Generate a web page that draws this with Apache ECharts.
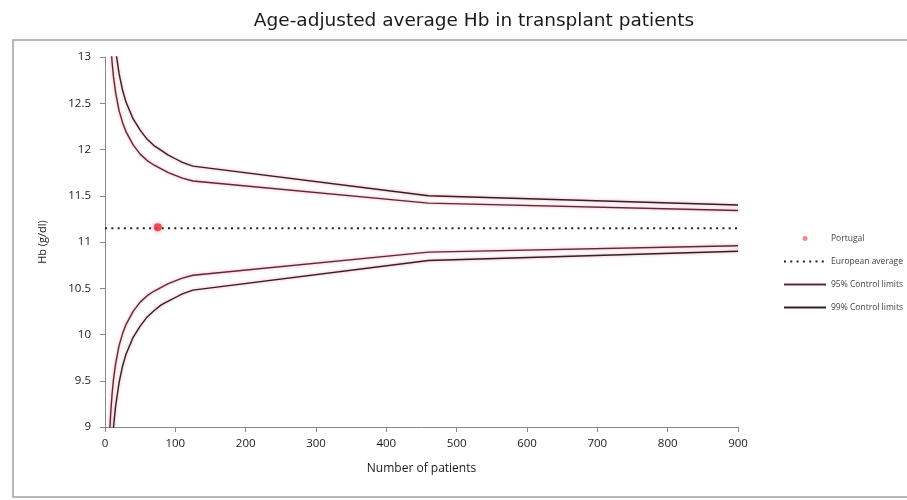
<!DOCTYPE html>
<html>
<head>
<meta charset="utf-8">
<script src="https://cdn.jsdelivr.net/npm/echarts@6/dist/echarts.min.js"></script>
<style>
html,body{margin:0;padding:0;background:#fff;}
#chart{width:907px;height:500px;}
</style>
</head>
<body>
<div id="chart"></div>
<script>
// Number of patients at which the control limits are plotted
var patients = [6, 8, 10, 12, 15, 20, 25, 30, 40, 50, 60, 70, 80, 90, 100, 110, 125, 460, 900];
// 99% control limits (upper / lower)
var upper99 = [14.20, 13.79, 13.51, 13.31, 13.08, 12.82, 12.64, 12.51, 12.33, 12.21, 12.11, 12.04, 11.99, 11.94, 11.90, 11.86, 11.82, 11.50, 11.40];
var lower99 = [8.10, 8.51, 8.79, 8.99, 9.22, 9.48, 9.66, 9.79, 9.97, 10.09, 10.19, 10.26, 10.32, 10.36, 10.40, 10.44, 10.48, 10.80, 10.90];
// 95% control limits (upper / lower)
var upper95 = [13.47, 13.16, 12.95, 12.79, 12.62, 12.42, 12.29, 12.19, 12.05, 11.95, 11.88, 11.83, 11.79, 11.75, 11.72, 11.69, 11.66, 11.42, 11.34];
var lower95 = [8.83, 9.14, 9.35, 9.51, 9.68, 9.88, 10.01, 10.11, 10.25, 10.35, 10.42, 10.47, 10.51, 10.55, 10.58, 10.61, 10.64, 10.89, 10.96];
// European average
var europeanX = [0, 900];
var europeanAvg = 11.15;
// Portugal
var portugalN = 75;
var portugalHb = 11.16;

function pairs(xs, ys) { return xs.map(function (x, i) { return [x, ys[i]]; }); }

var c95 = '#5e2a36';
var c99 = '#33202a';
var font = 'Open Sans';

function limitSeries(name, data, color) {
  return {
    name: name, type: 'line', data: data, symbol: 'none', smooth: false,
    clip: true,
    lineStyle: { color: color, width: 1.4, shadowColor: 'rgba(235,120,140,0.8)', shadowBlur: 3 },
    itemStyle: { color: color },
    emphasis: { disabled: true }, silent: true, z: 3
  };
}

var chart = echarts.init(document.getElementById('chart'), null, { renderer: 'canvas' });
chart.setOption({
  animation: false,
  backgroundColor: '#fff',
  title: {
    text: 'Age-adjusted average Hb in transplant patients',
    left: 469, top: 7, textAlign: 'center',
    textStyle: { fontFamily: 'DejaVu Sans', fontSize: 18.5, fontWeight: 'normal', color: '#1a1a1a' }
  },
  graphic: [{
    type: 'rect', shape: { x: 13, y: 40, width: 900, height: 457 },
    style: { fill: 'none', stroke: '#a0a0a0', lineWidth: 1.5 }, silent: true, z: -1
  }],
  legend: {
    orient: 'vertical', left: 778, top: 229, itemWidth: 42, itemHeight: 5, itemGap: 14,
    textStyle: { fontFamily: font, fontSize: 8.5, color: '#444' },
    data: [
      { name: 'Portugal', icon: 'circle', itemStyle: { color: '#ec6a70' } },
      { name: 'European average', itemStyle: { opacity: 0 } },
      { name: '95% Control limits', itemStyle: { opacity: 0 } },
      { name: '99% Control limits', itemStyle: { opacity: 0 } }
    ]
  },
  grid: { left: 105, right: 169, top: 57, bottom: 73 },
  xAxis: {
    type: 'value', min: 0, max: 900, interval: 100,
    name: 'Number of patients', nameLocation: 'middle', nameGap: 36,
    nameTextStyle: { fontFamily: font, fontSize: 12, color: '#1a1a1a' },
    axisLine: { lineStyle: { color: '#888', width: 1 } },
    axisTick: { inside: false, length: 5, lineStyle: { color: '#888' } },
    axisLabel: { fontFamily: font, fontSize: 11.5, color: '#1a1a1a', margin: 11 },
    splitLine: { show: false }
  },
  yAxis: {
    type: 'value', min: 9, max: 13, interval: 0.5,
    name: 'Hb (g/dl)', nameLocation: 'middle', nameGap: 57, nameRotate: 90,
    nameTextStyle: { fontFamily: font, fontSize: 11, color: '#1a1a1a' },
    axisLine: { show: true, lineStyle: { color: '#888', width: 1 } },
    axisTick: { show: true, length: 5, lineStyle: { color: '#888' } },
    axisLabel: { fontFamily: font, fontSize: 11.5, color: '#1a1a1a', margin: 14 },
    splitLine: { show: false }
  },
  series: [
    {
      name: 'Portugal', type: 'scatter', data: [[portugalN, portugalHb]],
      symbol: 'circle', symbolSize: 8,
      itemStyle: { color: '#e3343c', shadowColor: 'rgba(240,90,90,0.8)', shadowBlur: 4 }, z: 5
    },
    {
      name: 'European average', type: 'line', symbol: 'none',
      data: europeanX.map(function (x) { return [x, europeanAvg]; }),
      lineStyle: { color: '#222', width: 2, type: [2, 4.3] },
      itemStyle: { color: '#222' }, z: 4
    },
    limitSeries('95% Control limits', pairs(patients, upper95), c95),
    limitSeries('95% Control limits', pairs(patients, lower95), c95),
    limitSeries('99% Control limits', pairs(patients, upper99), c99),
    limitSeries('99% Control limits', pairs(patients, lower99), c99)
  ]
});
</script>
</body>
</html>
